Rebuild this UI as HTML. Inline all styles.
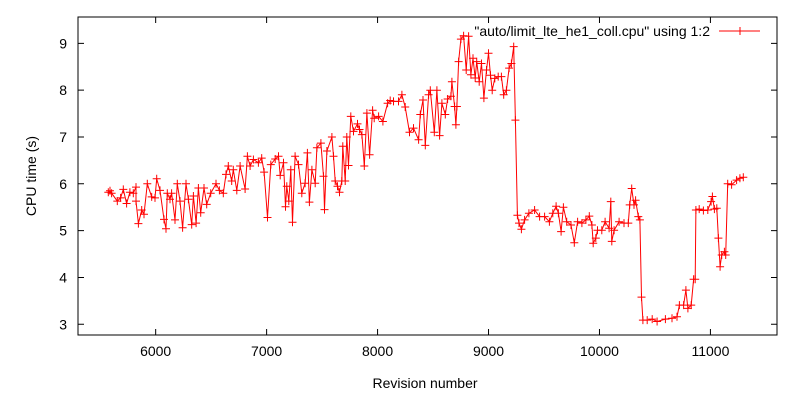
<!DOCTYPE html>
<html><head><meta charset="utf-8"><style>
html,body{margin:0;padding:0;background:#fff;}
svg text{font-family:"Liberation Sans",sans-serif;font-size:14px;fill:#000;}
</style></head><body>
<svg width="800" height="400" viewBox="0 0 800 400">
<g id="axes"></g>
<g id="series"></g>
<text x="425" y="388" text-anchor="middle">Revision number</text>
<text x="0" y="0" transform="translate(36,176) rotate(-90)" text-anchor="middle">CPU time (s)</text>
<g>
<text x="710" y="36" text-anchor="end">"auto/limit_lte_he1_coll.cpu" using 1:2</text>
<line x1="719" y1="31" x2="760" y2="31" stroke="#f00" stroke-width="1"/>
<path d="M736,31h8M740,27v8" stroke="#f00" stroke-width="1"/>
</g>
<script>
const xTicks=[6000,7000,8000,9000,10000,11000];
const yTicks=[3,4,5,6,7,8,9];
const revisions=[5573,5588,5603,5654,5684,5708,5738,5768,5798,5823,5823,5844,5874,5895,5925,5964,5994,6009,6039,6075,6093,6105,6129,6144,6174,6195,6219,6243,6273,6295,6325,6340,6364,6385,6406,6436,6460,6496,6544,6574,6610,6634,6655,6685,6700,6731,6761,6806,6827,6851,6881,6926,6956,6977,7008,7038,7077,7107,7122,7152,7170,7182,7200,7218,7233,7257,7287,7317,7347,7368,7386,7408,7438,7453,7489,7513,7522,7543,7588,7603,7618,7639,7657,7678,7687,7708,7723,7738,7759,7783,7819,7837,7859,7880,7904,7928,7955,7970,8009,8048,8090,8114,8144,8189,8219,8249,8288,8324,8370,8385,8409,8430,8460,8475,8511,8535,8559,8580,8610,8631,8661,8670,8694,8706,8715,8730,8751,8775,8799,8820,8841,8860,8880,8893,8916,8937,8958,8982,9000,9018,9033,9057,9087,9116,9137,9161,9185,9206,9227,9242,9260,9275,9296,9325,9364,9415,9460,9505,9549,9579,9609,9630,9654,9675,9705,9743,9773,9803,9842,9878,9908,9932,9943,9967,9982,10021,10051,10087,10102,10111,10132,10177,10221,10260,10272,10290,10311,10326,10350,10364,10379,10391,10430,10475,10519,10594,10654,10699,10720,10758,10779,10797,10827,10848,10863,10869,10899,10937,10976,11006,11018,11036,11057,11072,11087,11102,11126,11138,11156,11191,11236,11266,11296];
const cpuTimes=[5.82,5.85,5.8,5.63,5.7,5.88,5.58,5.82,5.8,5.93,5.63,5.15,5.44,5.35,6.0,5.72,5.7,6.11,5.86,5.24,5.04,5.8,5.67,5.8,5.23,6.0,5.63,5.06,6.0,5.67,5.13,5.74,5.16,5.91,5.38,5.91,5.56,5.8,6.0,5.86,5.8,6.2,6.38,6.06,6.3,5.86,6.38,5.89,6.59,6.38,6.52,6.45,6.55,6.25,5.28,6.41,6.53,6.59,6.18,6.45,5.51,5.95,5.63,6.3,5.18,6.59,6.41,5.8,6.01,6.66,5.61,6.3,6.01,6.77,6.87,6.16,5.45,6.7,7.0,6.59,6.06,5.95,5.82,6.06,6.8,6.06,7.0,6.39,7.44,7.12,7.28,7.16,7.05,6.38,7.51,6.62,7.57,7.4,7.44,7.33,7.72,7.78,7.76,7.76,7.9,7.64,7.1,7.19,6.94,7.48,7.79,6.82,7.9,8.0,7.1,8.0,7.03,7.72,7.48,7.81,7.87,8.18,7.65,7.26,7.65,8.61,9.09,9.16,8.43,9.15,8.33,8.68,8.26,8.61,8.18,8.57,7.83,8.43,8.79,8.32,8.0,8.25,8.29,8.29,7.9,8.0,8.47,8.57,8.93,7.36,5.33,5.16,5.03,5.23,5.37,5.44,5.3,5.3,5.19,5.37,5.52,5.37,4.98,5.5,5.19,5.12,4.74,5.19,5.16,5.23,5.31,5.12,4.73,4.84,5.01,5.01,5.19,5.05,5.62,4.77,5.01,5.19,5.16,5.16,5.55,5.9,5.55,5.65,5.3,5.23,3.58,3.09,3.09,3.11,3.06,3.11,3.13,3.16,3.41,3.41,3.73,3.34,3.41,3.96,3.96,5.44,5.46,5.43,5.44,5.62,5.73,5.46,5.48,4.84,4.23,4.48,4.55,4.48,6.0,5.98,6.08,6.12,6.14];
const L=78,R=777,T=17,B=335;
const xMin=5300,xMax=11600;
function sx(v){return L+(v-xMin)/(xMax-xMin)*(R-L);}
function sy(v){return 324.3-(v-3)*46.83;}
const NS='http://www.w3.org/2000/svg';
const axes=document.getElementById('axes');
const ser=document.getElementById('series');
function mk(tag,attrs,parent){const e=document.createElementNS(NS,tag);for(const k in attrs)e.setAttribute(k,attrs[k]);parent.appendChild(e);return e;}
const frame=mk('rect',{x:L,y:T,width:R-L,height:B-T,fill:'none',stroke:'#000','stroke-width':1},axes);


xTicks.forEach(t=>{const x=sx(t);
 const tk=mk('path',{d:`M${x},${B}v-6M${x},${T}v6`,stroke:'#000'},axes);
 
 
 const lb=mk('text',{x:x,y:B+21,'text-anchor':'middle'},axes);lb.textContent=t;
 
 
});
yTicks.forEach(t=>{const y=sy(t);
 const tk=mk('path',{d:`M${L},${y}h6M${R},${y}h-6`,stroke:'#000'},axes);
 
 
 const lb=mk('text',{x:L-11,y:y+5,'text-anchor':'end'},axes);lb.textContent=t;
 
 
});
let d='',m='';
revisions.forEach((r,i)=>{const x=sx(r),y=sy(cpuTimes[i]);d+=(i?'L':'M')+x.toFixed(1)+','+y.toFixed(1);m+=`M${(x-4).toFixed(1)},${y.toFixed(1)}h8M${x.toFixed(1)},${(y-4).toFixed(1)}v8`;});
const line=mk('path',{d:d,fill:'none',stroke:'#f00','stroke-width':1},ser);


const pts=mk('path',{d:m,fill:'none',stroke:'#f00','stroke-width':1},ser);


</script>
</svg>
</body></html>
